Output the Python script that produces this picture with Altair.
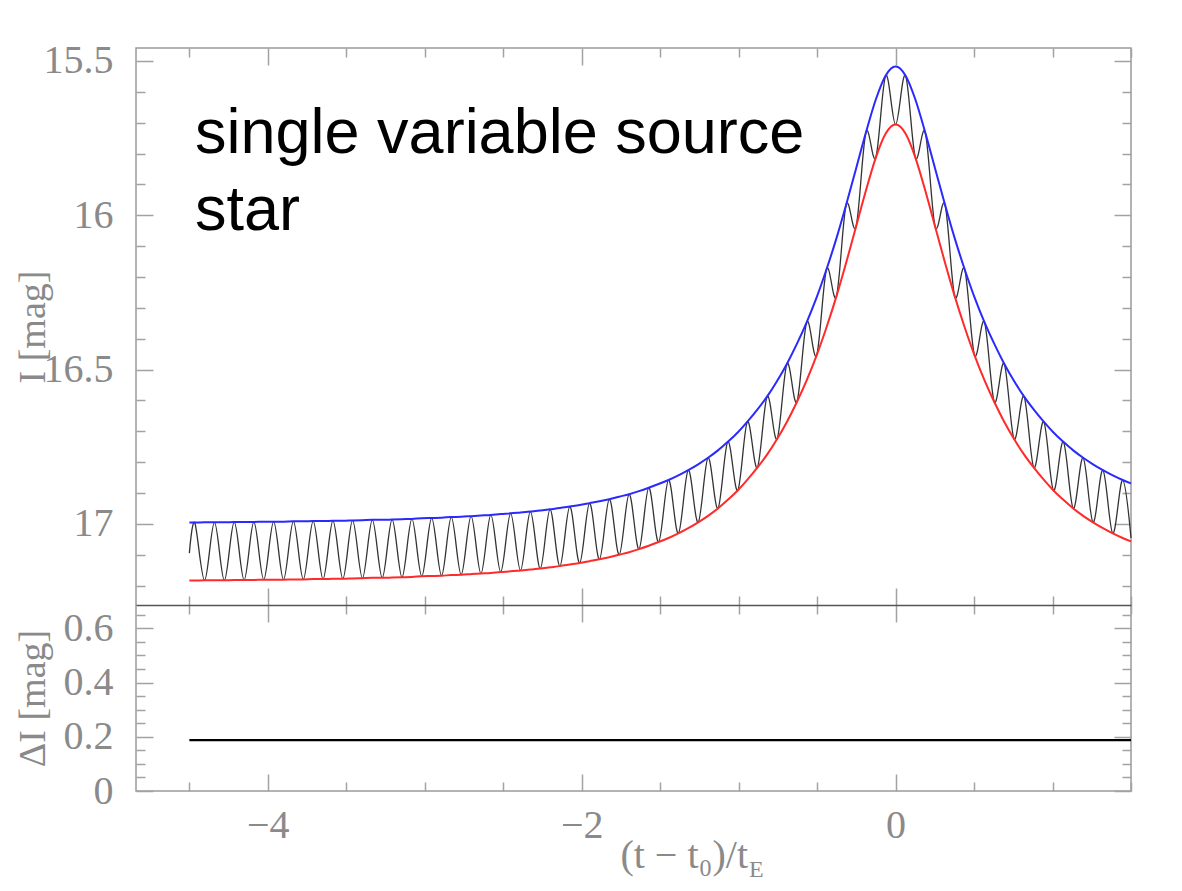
import altair as alt
import pandas as pd

# ---- data ----
t = [-4.5, -4.466, -4.403, -4.340, -4.277, -4.214, -4.151, -4.089, -4.026, -3.963,
     -3.900, -3.837, -3.774, -3.711, -3.648, -3.585, -3.522, -3.460, -3.397, -3.334,
     -3.271, -3.208, -3.145, -3.082, -3.019, -2.956, -2.893, -2.831, -2.768, -2.705,
     -2.642, -2.579, -2.516, -2.453, -2.390, -2.327, -2.264, -2.202, -2.139, -2.076,
     -2.013, -1.950, -1.887, -1.824, -1.761, -1.698, -1.635, -1.573, -1.510, -1.447,
     -1.384, -1.321, -1.258, -1.195, -1.132, -1.069, -1.006, -0.944, -0.881, -0.818,
     -0.755, -0.692, -0.629, -0.566, -0.503, -0.440, -0.377, -0.315, -0.252, -0.189,
     -0.126, -0.063, 0.000, 0.063, 0.126, 0.189, 0.252, 0.315, 0.377, 0.440,
     0.503, 0.566, 0.629, 0.692, 0.755, 0.818, 0.881, 0.944, 1.006, 1.069,
     1.132, 1.195, 1.258, 1.321, 1.384, 1.447, 1.5]

# bright envelope (blue)
blue = [16.996,
        16.996, 16.995, 16.995, 16.995, 16.994, 16.994, 16.994, 16.993, 16.993, 16.993,
        16.992, 16.992, 16.991, 16.991, 16.990, 16.990, 16.989, 16.988, 16.987, 16.987,
        16.986, 16.985, 16.984, 16.982, 16.981, 16.980, 16.978, 16.977, 16.975, 16.973,
        16.971, 16.968, 16.966, 16.963, 16.960, 16.957, 16.953, 16.949, 16.944, 16.939,
        16.933, 16.927, 16.920, 16.912, 16.904, 16.894, 16.883, 16.871, 16.858, 16.843,
        16.826, 16.807, 16.786, 16.762, 16.734, 16.704, 16.669, 16.630, 16.587, 16.537,
        16.481, 16.417, 16.346, 16.266, 16.175, 16.075, 15.966, 15.849, 15.732, 15.625, 15.547,
        15.518,
        15.547, 15.625, 15.732, 15.849, 15.966, 16.075, 16.175, 16.266, 16.346, 16.417,
        16.481, 16.537, 16.587, 16.630, 16.669, 16.704, 16.734, 16.762, 16.786, 16.807,
        16.826, 16.843, 16.858,
        16.869]

# faint envelope (red)
red = [17.184,
       17.184, 17.183, 17.183, 17.183, 17.182, 17.182, 17.182, 17.181, 17.181, 17.181,
       17.180, 17.180, 17.179, 17.179, 17.178, 17.178, 17.177, 17.176, 17.175, 17.175,
       17.174, 17.173, 17.172, 17.170, 17.169, 17.168, 17.166, 17.165, 17.163, 17.161,
       17.159, 17.156, 17.154, 17.151, 17.148, 17.145, 17.141, 17.137, 17.132, 17.127,
       17.121, 17.115, 17.108, 17.100, 17.092, 17.082, 17.071, 17.059, 17.046, 17.031,
       17.014, 16.995, 16.974, 16.950, 16.922, 16.892, 16.857, 16.818, 16.775, 16.725,
       16.669, 16.605, 16.534, 16.454, 16.363, 16.263, 16.154, 16.037, 15.920, 15.813, 15.735,
       15.706,
       15.735, 15.813, 15.920, 16.037, 16.154, 16.263, 16.363, 16.454, 16.534, 16.605,
       16.669, 16.725, 16.775, 16.818, 16.857, 16.892, 16.922, 16.950, 16.974, 16.995,
       17.014, 17.031, 17.046,
       17.057]

# variable source light curve (black), extrema alternate between envelopes
black = [17.095,
         16.996, 17.183, 16.995, 17.183, 16.994, 17.182, 16.994, 17.181, 16.993, 17.181,
         16.992, 17.180, 16.991, 17.179, 16.990, 17.178, 16.989, 17.176, 16.987, 17.175,
         16.986, 17.173, 16.984, 17.170, 16.981, 17.168, 16.978, 17.165, 16.975, 17.161,
         16.971, 17.156, 16.966, 17.151, 16.960, 17.145, 16.953, 17.137, 16.944, 17.127,
         16.933, 17.115, 16.920, 17.100, 16.904, 17.082, 16.883, 17.059, 16.858, 17.031,
         16.826, 16.995, 16.786, 16.950, 16.734, 16.892, 16.669, 16.818, 16.587, 16.725,
         16.481, 16.605, 16.346, 16.454, 16.175, 16.263, 15.966, 16.037, 15.732, 15.813, 15.547,
         15.706,
         15.547, 15.813, 15.732, 16.037, 15.966, 16.263, 16.175, 16.454, 16.346, 16.605,
         16.481, 16.725, 16.587, 16.818, 16.669, 16.892, 16.734, 16.950, 16.786, 16.995,
         16.826, 17.031, 16.858,
         17.046]

dI_t = [-4.5, 1.5]
dI = [0.188, 0.188]

top_ticks = [15.5, 15.6, 15.7, 15.8, 15.9, 16.0, 16.1, 16.2, 16.3, 16.4, 16.5,
             16.6, 16.7, 16.8, 16.9, 17.0, 17.1, 17.2]
top_labels = [15.5, 16, 16.5, 17]
bot_ticks = [0, 0.05, 0.1, 0.15, 0.2, 0.25, 0.3, 0.35, 0.4, 0.45, 0.5, 0.55, 0.6, 0.65]
bot_labels = [0, 0.2, 0.4, 0.6]
x_ticks = [-4.5, -4, -3.5, -3, -2.5, -2, -1.5, -1, -0.5, 0, 0.5, 1, 1.5]
x_labels = [-4, -2, 0]

df = pd.DataFrame({"t": t, "blue": blue, "red": red, "black": black})
ddf = pd.DataFrame({"t": dI_t, "dI": dI})

W, H, HT = 995, 743, 557
SERIF = "Liberation Serif"
GRAY = "#8a8a8a"
TICK = "#a2a2a2"

XS = alt.Scale(domain=[-4.84, 1.5], nice=False, zero=False)
YT = alt.Scale(domain=[15.458, 17.263], range=[0, HT], nice=False, zero=False)
YB = alt.Scale(domain=[0, 0.686], range=[H, HT], nice=False, zero=False)


def tick_axis(orient, offset, values, major_test):
    return alt.Axis(orient=orient, offset=offset, values=values, labels=False,
                    domain=False, ticks=True, grid=False, title=None,
                    tickColor=TICK, tickWidth=1.5,
                    tickSize={"condition": {"test": major_test, "value": 17}, "value": 9})


x_major = "abs(datum.value/2 - round(datum.value/2)) < 0.001"
yt_major = "abs(datum.value*2 - round(datum.value*2)) < 0.001"
yb_major = "abs(datum.value*5 - round(datum.value*5)) < 0.001"

ax_x_labels = alt.Axis(orient="bottom", values=x_labels, ticks=False, tickSize=0,
                       domain=False, grid=False, title=None, labelPadding=14,
                       labelFontSize=40, labelFont=SERIF, labelColor=GRAY, format="~g")
ax_yt_labels = alt.Axis(orient="left", values=top_labels, ticks=False, tickSize=0,
                        domain=False, grid=False, labelPadding=23, labelFontSize=40,
                        labelFont=SERIF, labelColor=GRAY, format="~g",
                        labelOverlap=False,
                        title="I [mag]", titleFont=SERIF, titleFontSize=38,
                        titleFontWeight="normal", titleColor=GRAY, titleX=-84)
ax_yb_labels = alt.Axis(orient="left", values=bot_labels, ticks=False, tickSize=0,
                        domain=False, grid=False, labelPadding=23, labelFontSize=40,
                        labelFont=SERIF, labelColor=GRAY, format="~g",
                        labelOverlap=False,
                        title="ΔI [mag]", titleFont=SERIF, titleFontSize=38,
                        titleFontWeight="normal", titleColor=GRAY, titleX=-84)

base = alt.Chart(df)

black_line = base.mark_line(color="#333333", strokeWidth=1.3, interpolate="cardinal").encode(
    x=alt.X("t:Q", scale=XS, axis=tick_axis("top", -HT, x_ticks, x_major)),
    y=alt.Y("black:Q", scale=YT, axis=tick_axis("left", -W, top_ticks, yt_major)),
)
red_line = base.mark_line(color="#ff2a2a", strokeWidth=2, interpolate="monotone").encode(
    x=alt.X("t:Q", scale=XS, axis=tick_axis("bottom", -H, x_ticks, x_major)),
    y=alt.Y("red:Q", scale=YT, axis=tick_axis("right", -W, top_ticks, yt_major)),
)
blue_line = base.mark_line(color="#2a2aff", strokeWidth=2, interpolate="monotone").encode(
    x=alt.X("t:Q", scale=XS, axis=ax_x_labels),
    y=alt.Y("blue:Q", scale=YT, axis=ax_yt_labels),
)

dbase = alt.Chart(ddf)
dI_line = dbase.mark_line(color="black", strokeWidth=2.2).encode(
    x=alt.X("t:Q", scale=XS, axis=tick_axis("top", -H, x_ticks, x_major)),
    y=alt.Y("dI:Q", scale=YB, axis=ax_yb_labels),
)
div_axis = alt.Axis(orient="bottom", offset=-(H - HT), values=x_ticks, labels=False,
                    domain=True, domainColor="#555555", domainWidth=1.6,
                    ticks=True, grid=False, title=None, tickColor=TICK, tickWidth=1.5,
                    tickSize={"condition": {"test": x_major, "value": 17}, "value": 9})
dummy1 = dbase.mark_line(opacity=0).encode(
    x=alt.X("t:Q", scale=XS, axis=div_axis),
    y=alt.Y("dI:Q", scale=YB, axis=tick_axis("right", -W, bot_ticks, yb_major)),
)
dummy2 = dbase.mark_line(opacity=0).encode(
    x=alt.X("t:Q", scale=XS, axis=None),
    y=alt.Y("dI:Q", scale=YB, axis=tick_axis("left", -W, bot_ticks, yb_major)),
)

note = alt.Chart(pd.DataFrame({"s": ["single variable source\nstar"]})).mark_text(
    align="left", baseline="alphabetic", font="Liberation Sans", fontSize=63,
    lineHeight=77, color="black", lineBreak="\n"
).encode(x=alt.value(59), y=alt.value(105), text="s:N")

xtitle_main = alt.Chart(pd.DataFrame({"s": ["(t − t₀)/t"]})).mark_text(
    align="right", baseline="alphabetic", font=SERIF, fontSize=40, color=GRAY
).encode(x=alt.value(612), y=alt.value(820), text="s:N")
xtitle_sub = alt.Chart(pd.DataFrame({"s": ["E"]})).mark_text(
    align="left", baseline="alphabetic", font=SERIF, fontSize=24, color=GRAY
).encode(x=alt.value(613), y=alt.value(829), text="s:N")

chart = alt.layer(
    black_line, red_line, blue_line, dI_line, dummy1, dummy2, note, xtitle_main, xtitle_sub
).resolve_scale(y="independent").resolve_axis(x="independent", y="independent").properties(
    width=W, height=H,
    autosize=alt.AutoSizeParams(type="none"),
    padding={"left": 128, "top": 40, "right": 43, "bottom": 92},
    background="white",
).configure_view(stroke="#9a9a9a", strokeWidth=1.5)

chart.save("out.html", embed_options={"renderer": "svg", "actions": False})
